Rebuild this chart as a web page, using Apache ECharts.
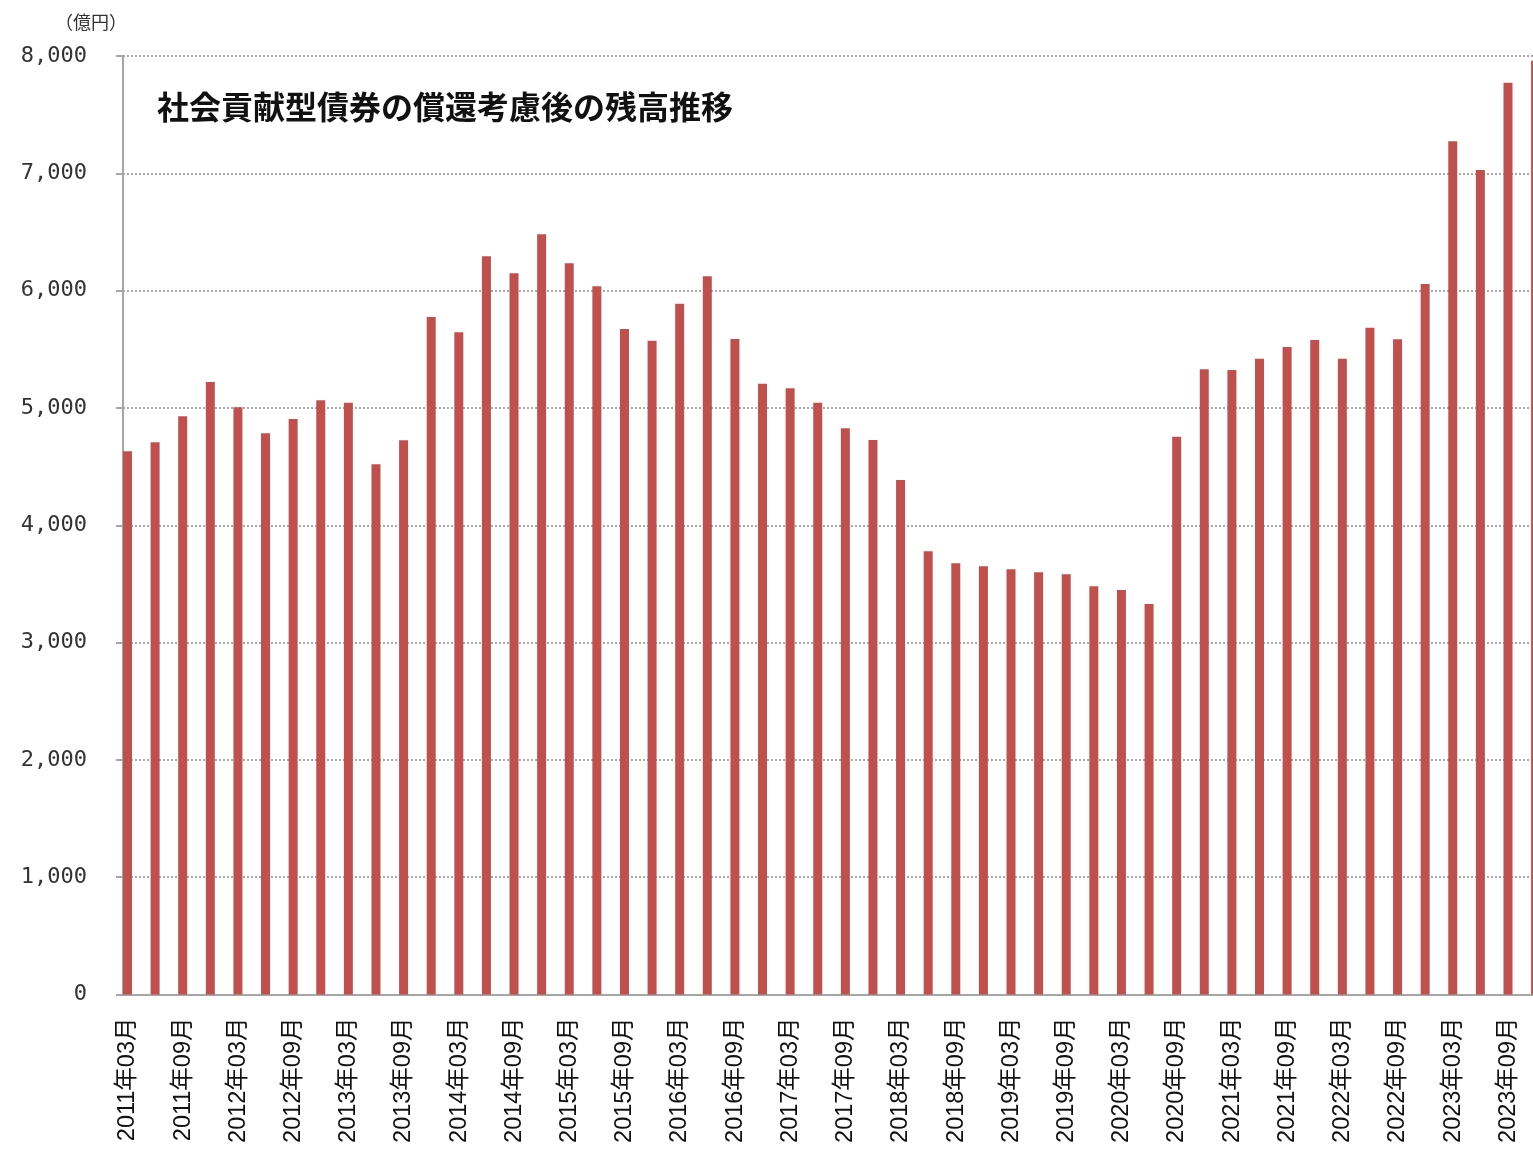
<!DOCTYPE html>
<html>
<head>
<meta charset="utf-8">
<script src="https://cdn.jsdelivr.net/npm/echarts@6/dist/echarts.min.js"></script>
<style>
    html, body { margin: 0; padding: 0; background: #fff; }
    #balanceChart { width: 1533px; height: 1150px; }
</style>
</head>
<body>
<div id="balanceChart"></div>
<script>
// quarterly months, labels shown every 2nd
const years = [2011, 2012, 2013, 2014, 2015, 2016, 2017, 2018, 2019, 2020, 2021, 2022, 2023];
const months = ['03', '06', '09', '12'];
const categories = [];
years.forEach((y) => months.forEach((m) => categories.push(y + '年' + m + '月')));

// 億円
const balance = [
    4630, 4707, 4929, 5221, 5006, 4784, 4906, 5065, 5045, 4520, 4724, 5775,
    5645, 6293, 6148, 6480, 6233, 6037, 5673, 5573, 5889, 6122, 5588, 5207,
    5168, 5045, 4827, 4727, 4386, 3778, 3676, 3650, 3625, 3599, 3582, 3480,
    3448, 3329, 4755, 5329, 5323, 5420, 5519, 5579, 5420, 5684, 5585, 6056,
    7273, 7029, 7773, 7960,
];

const yTicks = [0, 1000, 2000, 3000, 4000, 5000, 6000, 7000, 8000];

const chart = echarts.init(document.getElementById('balanceChart'));
chart.setOption({
    backgroundColor: '#fff',
    animation: false,
    title: [
        {
            text: '社会貢献型債券の償還考慮後の残高推移',
            left: 152,
            top: 86,
            textStyle: {
                fontFamily: 'Noto Sans CJK JP',
                fontSize: 32,
                fontWeight: 'bold',
                color: '#111',
            },
        },
        {
            text: '（億円）',
            left: 50,
            top: 8,
            textStyle: {
                fontFamily: 'Noto Sans CJK JP',
                fontSize: 18,
                fontWeight: 'normal',
                color: '#333',
            },
        },
    ],
    grid: {
        left: 123,
        top: 56,
        width: 52 * 27.61,
        height: 938.5,
        outerBoundsMode: 'none',
        containLabel: false,
    },
    xAxis: {
        type: 'category',
        data: categories,
        axisLine: { lineStyle: { color: '#a6a6a6', width: 2 } },
        axisTick: { interval: 1, length: 8, lineStyle: { color: '#a6a6a6', width: 2 } },
        axisLabel: {
            interval: 1,
            rotate: 90,
            margin: 23,
            verticalAlign: 'bottom',
            lineHeight: 18,
            fontFamily: "'Liberation Sans', 'Noto Sans CJK JP'",
            fontSize: 23.5,
            color: '#111',
        },
    },
    yAxis: {
        type: 'value',
        min: yTicks[0],
        max: yTicks[yTicks.length - 1],
        interval: 1000,
        axisLine: { show: true, lineStyle: { color: '#a6a6a6', width: 2 } },
        axisTick: { show: true, length: 7, lineStyle: { color: '#a6a6a6', width: 2 } },
        splitLine: { lineStyle: { color: '#8c8c8c', type: [2, 2], width: 1.5 } },
        axisLabel: {
            margin: 36,
            fontFamily: 'DejaVu Sans Mono',
            fontSize: 22,
            color: '#333',
            formatter: (v) => v.toLocaleString('en-US'),
        },
    },
    series: [
        {
            name: '残高',
            type: 'bar',
            data: balance,
            barWidth: 9,
            barGap: '107%',
            itemStyle: { color: '#c0504d' },
        },
        {
            // empty slot that pushes bars to the left of each band
            name: 'spacer',
            type: 'bar',
            data: [],
            barWidth: 9,
        },
    ],
});
</script>
</body>
</html>
